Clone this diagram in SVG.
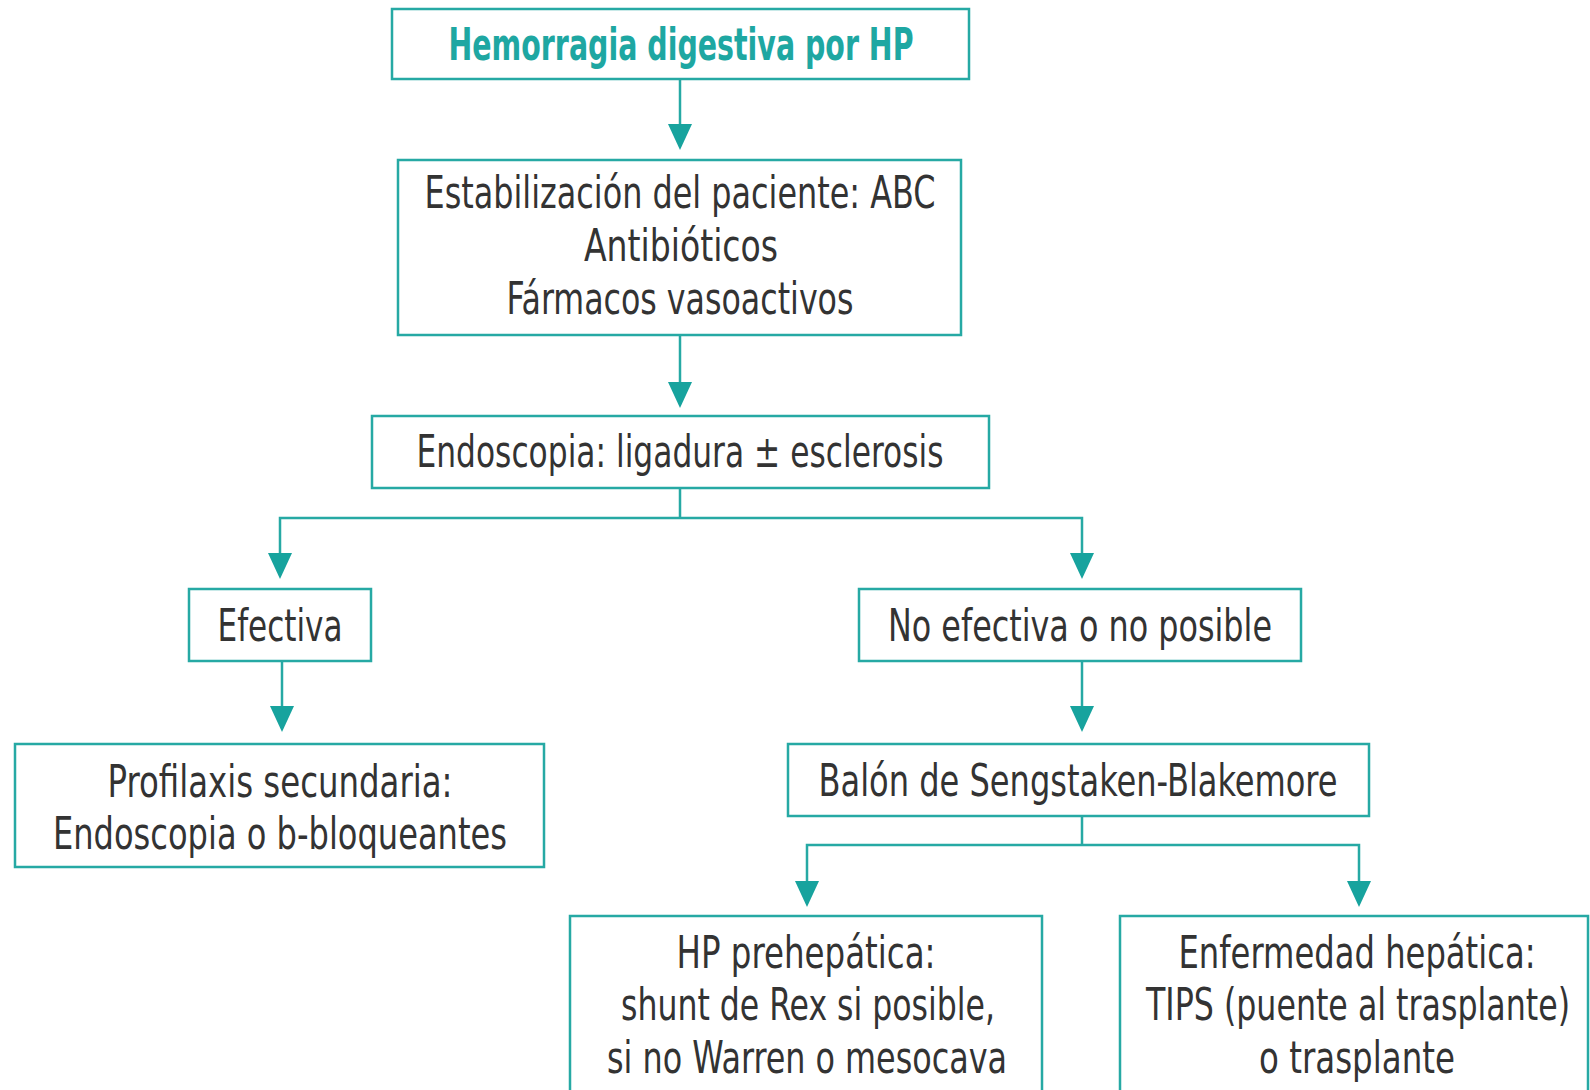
<svg xmlns="http://www.w3.org/2000/svg" width="1590" height="1090" viewBox="0 0 1590 1090">
<defs>
<style>
.box{fill:#ffffff;stroke:#26a9a4;stroke-width:2.5}
.t{font-family:"Liberation Sans Narrow","DejaVu Sans Condensed","Liberation Sans",sans-serif;font-size:44px;fill:#333333;text-anchor:middle}
.h{fill:#1ea7a2;font-weight:bold}
.ln{fill:none;stroke:#26a9a4;stroke-width:2.5}
.ah{fill:#17a39e}
</style>
</defs>
<rect width="1590" height="1090" fill="#ffffff"/>
<g id="connectors">
<path class="ln" d="M680 79V126"/>
<polygon class="ah" points="668,124 692,124 680,150"/>
<path class="ln" d="M680 335V384"/>
<polygon class="ah" points="668,382 692,382 680,408"/>
<path class="ln" d="M680 488V518M280 555V518H1082V555"/>
<polygon class="ah" points="268,553 292,553 280,579"/>
<polygon class="ah" points="1070,553 1094,553 1082,579"/>
<path class="ln" d="M282 661V708"/>
<polygon class="ah" points="270,706 294,706 282,732"/>
<path class="ln" d="M1082 661V708"/>
<polygon class="ah" points="1070,706 1094,706 1082,732"/>
<path class="ln" d="M1082 816V845M807 883V845H1359V883"/>
<polygon class="ah" points="795,881 819,881 807,907"/>
<polygon class="ah" points="1347,881 1371,881 1359,907"/>
</g>
<g id="n1"><rect class="box" x="392" y="9" width="577" height="70"/>
<text class="t h" x="681" y="60" textLength="465" lengthAdjust="spacingAndGlyphs">Hemorragia digestiva por HP</text></g>
<g id="n2"><rect class="box" x="398" y="160" width="563" height="175"/>
<text class="t" x="680" y="208" textLength="511" lengthAdjust="spacingAndGlyphs">Estabilización del paciente: ABC</text>
<text class="t" x="681" y="261" textLength="194" lengthAdjust="spacingAndGlyphs">Antibióticos</text>
<text class="t" x="680" y="314" textLength="347" lengthAdjust="spacingAndGlyphs">Fármacos vasoactivos</text></g>
<g id="n3"><rect class="box" x="372" y="416" width="617" height="72"/>
<text class="t" x="680" y="467" textLength="527" lengthAdjust="spacingAndGlyphs">Endoscopia: ligadura ± esclerosis</text></g>
<g id="n4"><rect class="box" x="189" y="589" width="182" height="72"/>
<text class="t" x="280" y="641" textLength="125" lengthAdjust="spacingAndGlyphs">Efectiva</text></g>
<g id="n5"><rect class="box" x="15" y="744" width="529" height="123"/>
<text class="t" x="280" y="797" textLength="345" lengthAdjust="spacingAndGlyphs">Profilaxis secundaria:</text>
<text class="t" x="280" y="849" textLength="454" lengthAdjust="spacingAndGlyphs">Endoscopia o b-bloqueantes</text></g>
<g id="n6"><rect class="box" x="859" y="589" width="442" height="72"/>
<text class="t" x="1080" y="641" textLength="384" lengthAdjust="spacingAndGlyphs">No efectiva o no posible</text></g>
<g id="n7"><rect class="box" x="788" y="744" width="581" height="72"/>
<text class="t" x="1078" y="796" textLength="519" lengthAdjust="spacingAndGlyphs">Balón de Sengstaken-Blakemore</text></g>
<g id="n8"><rect class="box" x="570" y="916" width="472" height="190"/>
<text class="t" x="806" y="968" textLength="259" lengthAdjust="spacingAndGlyphs">HP prehepática:</text>
<text class="t" x="808" y="1020" textLength="374" lengthAdjust="spacingAndGlyphs">shunt de Rex si posible,</text>
<text class="t" x="807" y="1073" textLength="400" lengthAdjust="spacingAndGlyphs">si no Warren o mesocava</text></g>
<g id="n9"><rect class="box" x="1120" y="916" width="468" height="190"/>
<text class="t" x="1357" y="968" textLength="357" lengthAdjust="spacingAndGlyphs">Enfermedad hepática:</text>
<text class="t" x="1358" y="1020" textLength="424" lengthAdjust="spacingAndGlyphs">TIPS (puente al trasplante)</text>
<text class="t" x="1357" y="1073" textLength="196" lengthAdjust="spacingAndGlyphs">o trasplante</text></g>
</svg>
